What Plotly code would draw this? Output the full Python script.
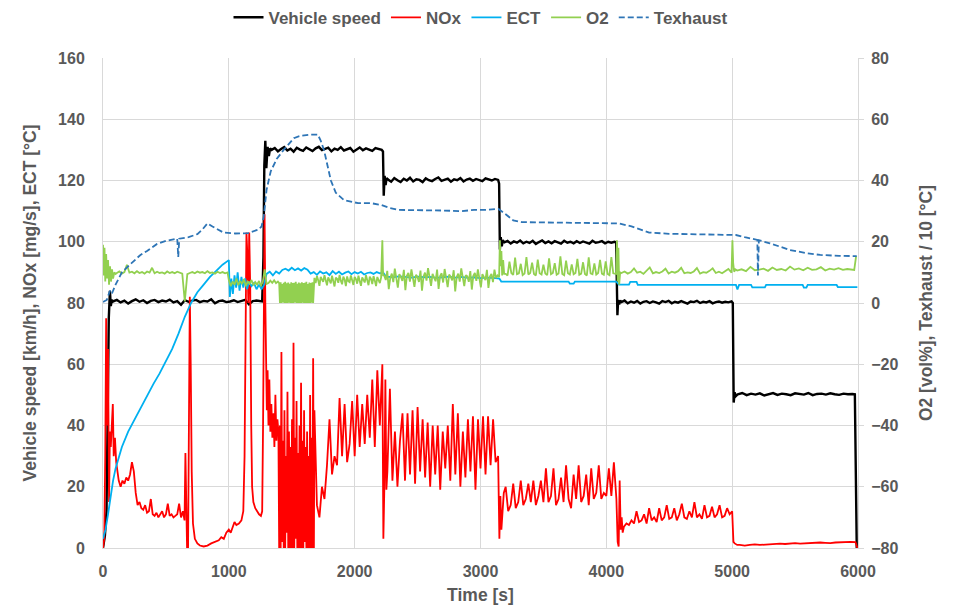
import plotly.graph_objects as go

# ---------------- DATA ----------------
# Each series is built from explicit (time, value) pieces and uniformly sampled pieces
# (start time, sampling step, typed values).

# Vehicle speed [km/h]
speed_p1_t = [0, 15, 28, 38, 46, 55, 62, 70]
speed_p1_v = [0, 4, 12, 45, 75, 84, 79, 81]
speed_s1 = (80, 30, [80.5, 81, 80.2, 80.8, 79.8, 80.6, 81.2, 80.4, 80.9, 80, 80.7, 81, 80.3, 80.8, 80.5, 81.1,
                     80.2, 80.6, 79.4, 80.9, 80.4, 80.8, 81, 80.3, 80.7, 80.5, 81.2, 79.9, 80.6, 80.8, 80.3,
                     80.5, 80.9, 80.3, 80.7, 81, 79.6, 80.6, 80.8, 80.5])
speed_p2_t = [1265, 1275, 1282, 1290, 1298, 1308, 1318, 1328]
speed_p2_v = [80.5, 95, 125, 133, 124, 131, 128, 130.5]
speed_s2 = (1340, 25, [130, 130.6, 129.5, 130.3, 130.9, 129.8, 130.4, 129.4, 130.7, 130.1, 129.7, 130.8, 130.2,
                       129.6, 130.5, 131, 129.9, 130.3, 130.7, 129.5, 130.4, 130, 130.9, 129.8, 130.3, 130.6,
                       129.4, 130.2, 130.8, 129.9, 130.5, 130.1, 129.7, 130.6, 130.2, 130])
speed_p3_t = [2225, 2231, 2238, 2246, 2254]
speed_p3_v = [129.5, 115, 121.5, 118.5, 120.8]
speed_s3 = (2265, 25, [120.3, 119.6, 120.8, 120.1, 119.5, 120.6, 120, 120.9, 119.7, 120.4, 120.2, 119.5, 120.7,
                       120.1, 119.8, 120.5, 121, 119.9, 120.3, 120.6, 119.6, 120.4, 120.1, 120.8, 119.7, 120.3,
                       120.6, 119.9, 120.5, 120.2, 119.8, 120.7, 120.3, 120, 120.5, 120.2])
speed_p4_t = [3148, 3154, 3161, 3169, 3177]
speed_p4_v = [119, 97.5, 101.5, 98.5, 100.5]
speed_s4 = (3190, 25, [99.8, 100.3, 99.4, 100.1, 99.7, 100.4, 99.5, 100, 99.6, 100.3, 99.3, 99.9, 100.4, 99.6,
                       100.1, 99.5, 100.2, 99.8, 99.4, 100.3, 99.7, 100, 99.5, 100.2, 99.6, 100.1, 99.8, 99.4,
                       100.3, 99.7, 99.9, 100.2, 99.5, 100, 99.7, 100])
speed_p5_t = [4078, 4088, 4094, 4102, 4110]
speed_p5_v = [99.8, 76, 81, 79.5, 80.8]
speed_s5 = (4120, 25, [80.3, 80.8, 79.9, 80.5, 80.1, 80.7, 79.8, 80.4, 80.6, 80, 80.5, 80.2, 79.8, 80.6, 80.3,
                       80.7, 79.9, 80.4, 80.1, 80.6, 80.2, 79.8, 80.5, 80.3, 80.7, 80, 80.4, 80.2, 80.6, 79.9,
                       80.3, 80.5, 80.1, 80.4, 80.2, 80.5])
speed_p6_t = [5005, 5012, 5020, 5030]
speed_p6_v = [80, 47.5, 50.8, 49.6]
speed_s6 = (5045, 35, [50.2, 50.6, 49.9, 50.4, 50.1, 50.5, 49.8, 50.3, 50.6, 50, 50.4, 50.2, 49.9, 50.5, 50.3,
                       50.1, 50.6, 49.9, 50.3, 50.4, 50.1, 50.5, 50.2, 50, 50.4, 50.2, 50.3])
speed_p7_t = [5975, 5990]
speed_p7_v = [50.2, 0]

# NOx [mg/s]
nox_p1_t = [0, 10, 18, 25, 32, 40, 48, 55, 62, 70, 78, 85, 95, 105, 115, 125, 140, 155, 170, 185, 200, 215,
            230, 245, 260, 275, 290, 305, 320, 335, 350, 365, 380, 395, 410, 425, 440, 455, 470, 485, 500,
            515, 530, 545, 560, 575, 590, 605, 620, 635, 648, 655, 662, 668, 676, 684, 690, 697, 705, 715,
            730, 750, 770, 800, 830, 860, 890, 920, 940, 960, 980, 1000, 1015, 1030, 1045, 1060, 1080, 1100,
            1115, 1125, 1132, 1140, 1148, 1155, 1162, 1170, 1178, 1185, 1195, 1210, 1225, 1240, 1255, 1265,
            1272, 1278, 1284, 1290, 1296, 1302, 1308, 1315, 1322, 1330, 1338, 1346, 1355, 1362, 1370, 1378,
            1386, 1394]
nox_p1_v = [0, 3, 30, 75, 40, 65, 15, 38, 33, 40, 47, 30, 36, 28, 24, 22, 20, 22, 21, 23, 22, 24,
            28, 25, 18, 14, 15, 13, 12.5, 14, 11.5, 12, 16, 11, 10.5, 11.5, 10, 11, 12, 10, 11,
            14.5, 10.5, 11, 10, 10.5, 11, 14.5, 10, 12, 9, 31, 15, 0, 0, 60, 82, 60, 25, 8,
            3, 1.5, 0.8, 0.5, 0.8, 1.5, 2, 2.5, 3.5, 3, 5, 6, 5, 7, 8.5, 7.5, 8, 9,
            12, 30, 85, 103, 95, 80, 103, 85, 40, 20, 15, 13, 12, 11, 10.5, 12,
            40, 90, 109, 80, 60, 45, 58, 40, 55, 38, 47, 36, 44, 33, 50, 35,
            42, 38]
nox_s1 = (1400, 6, [0, 40, 0, 64, 2, 35, 0, 45, 0, 30, 5, 51, 0, 38, 0, 33, 0, 42, 0, 67, 0, 36, 3, 48, 0, 31,
                    0, 40, 0, 54, 0, 35, 0, 45, 2, 33, 0, 38, 0, 30, 0, 50, 0, 36, 0, 62, 0])
nox_s2 = (1680, 20, [45, 14, 10, 20, 16, 27, 42, 24, 30, 27, 49, 30, 47, 28, 34, 48, 30, 50, 33, 47, 34, 50,
                     36, 55, 33, 58, 40, 60])
nox_p2_t = [2228, 2236, 2244, 2252]
nox_p2_v = [3, 20, 55, 19]
nox_s3 = (2260, 20, [25, 52, 22, 38, 20, 35, 44, 22, 44, 24, 45, 21, 46, 25, 42, 23, 41, 20, 40, 24, 40, 19,
                     38, 26, 40, 22, 47, 24, 44, 20, 38, 23, 42, 25, 43, 19, 42, 26, 43, 24, 43, 27, 42, 28, 30])
nox_p3_t = [3150, 3158, 3166, 3175, 3185]
nox_p3_v = [3, 17, 6, 14, 18]
nox_s4 = (3200, 20, [20, 12, 14, 21, 13, 15, 22, 14, 16, 21, 15, 22, 14, 17, 22, 15, 26, 15, 17, 26, 14, 16,
                     23, 15, 27, 16, 13, 24, 16, 27, 15, 17, 24, 14, 26, 16, 18, 27, 16, 18, 17, 26, 17, 28, 16])
nox_p4_t = [4090, 4098, 4106, 4114, 4122, 4130]
nox_p4_v = [2, 0.5, 22, 6, 10, 5]
nox_s5 = (4140, 20, [7, 8, 7.5, 9, 8, 12, 8.5, 9, 11, 8, 13, 9, 10, 8.5, 13, 9, 10, 14, 9.5, 10, 13, 9, 11,
                     14.5, 10, 9.5, 12, 10, 15, 10, 11, 9.5, 14, 10, 10.5, 13.5, 10, 11, 14, 10, 10.5, 13, 11, 12])
nox_p5_t = [5010, 5020, 5040]
nox_p5_v = [2, 1.5, 1]
nox_s6 = (5060, 40, [1, 0.8, 1, 1.2, 1, 1.1, 1.3, 1.2, 1.4, 1.3, 1.5, 1.6, 1.4, 1.5, 1.7, 1.6, 1.8, 1.7,
                     1.6, 1.8, 1.9, 1.8, 2, 1.9])
nox_p6_t = [5995]
nox_p6_v = [0]

# ECT [°C]
ect_p1_t = [0, 20, 40, 60, 80, 100, 120, 150, 200, 250, 300, 350, 400, 450, 500, 550, 600, 650, 700, 750,
            800, 850, 900, 950, 1000]
ect_p1_v = [3, 6, 11, 17, 22, 26, 29, 33, 38, 42, 45.5, 49.5, 53.5, 57, 61, 65, 70, 75.5, 80, 83.5,
            86, 88.5, 90.5, 92.5, 94]
ect_p2_t = [1008, 1020, 1032, 1045, 1058, 1070, 1085, 1100, 1115, 1130, 1145, 1160, 1180, 1200, 1220, 1240,
            1260, 1280, 1295]
ect_p2_v = [82, 88, 83, 89, 85, 90, 84, 88.5, 85, 88, 84.5, 87, 85.5, 86.5, 84.5, 86, 84.5, 86, 88]
ect_s1 = (1300, 25, [89.5, 90.2, 89, 90.3, 89.6, 90.8, 91.2, 90.6, 91.5, 90.7, 91.3, 90.6, 91.4, 90.9, 89.6,
                     90.1, 89.2, 90.3, 89.6, 90, 89.1, 90.4, 89.5, 90.2, 89.3, 89.9, 90.3, 89.4, 90.1, 89.6,
                     90.2, 89.3, 89.8, 90, 89.5, 90.1, 89.7, 90])
ect_s2 = (2250, 50, [88.6, 88.4, 88.7, 88.5, 88.3, 88.6, 88.4, 88.5, 88.2, 88.4, 88.6, 88.3, 88.5, 88.2,
                     88.4, 88.1, 88.3, 88.2])
ect_p3_t = [3150, 3165, 3500, 3700, 3710, 3740, 3750, 4080, 4100, 4180, 4190, 4240, 4250, 5030, 5042, 5055,
            5150, 5160, 5260, 5270, 5560, 5570, 5590, 5600, 5830, 5840, 5995]
ect_p3_v = [88, 87, 87, 87, 86.3, 86.3, 87, 87, 86, 86, 86.9, 86.9, 85.9, 85.9, 84.4, 85.9, 85.9, 85.1,
            85.1, 85.9, 85.9, 85, 85, 85.9, 85.9, 85.2, 85.2]

# O2 [vol%] (secondary axis)
o2_p1_t = [0, 6, 12, 18, 25, 32, 40, 48, 56, 64, 72, 80, 90, 100]
o2_p1_v = [19, 9, 18, 7, 16, 8, 14, 6, 12, 7, 11, 8, 10, 9.5]
o2_s1 = (110, 20, [9.8, 10.3, 9.6, 10.1, 12.5, 9.9, 10.2, 9.7, 10.4, 9.8, 10.1, 9.6, 10.3, 9.9, 11.5, 9.7,
                   10.2, 9.8, 10, 9.6, 10.3, 9.8, 10.1, 9.7, 10.2, 9.9, 9.6, 0.5, 9.4, 9.8, 10.1, 9.7, 10.3,
                   9.9, 10.1, 9.7, 10.4, 9.8, 10, 9.6, 10.2, 9.8, 10.1, 9.7, 10])
o2_s2 = (1000, 15, [7.5, 5.5, 7, 6, 8, 5.8, 7.2, 6.2, 7.8, 5.5, 7, 6.3, 7.5, 5.8, 6.8, 6, 7.2, 5.5, 7, 11,
                    6.2, 6.5, 7.3, 6.6, 7.4, 6.5, 7])
o2_s3 = (1400, 6, [6.5, 0, 6.8, 0, 6.2, 0.2, 6.6, 0, 6.9, 0, 6.4, 0, 6.7, 0.1, 6.3, 0, 6.8, 0, 6.5, 0, 6.6,
                   0.2, 6.9, 0, 6.3, 0, 6.7, 0, 6.4, 0, 6.8, 0.1, 6.5, 0, 6.6, 0, 6.9, 0, 6.2, 0, 6.7, 0,
                   6.5, 0.1, 6.8, 0, 6.6])
o2_s4 = (1680, 10, [8.2, 6.5, 8.8, 7.4, 5.6, 8.5, 7.8, 6.9, 9.1, 7.2, 5.8, 8.4, 7.6, 6.4, 8.9, 7.5, 5.4, 8.3,
                    7.9, 6.6, 9.2, 7.3, 6.1, 8.6, 7.7, 5.5, 8.7, 7.1, 6.8, 9, 7.4, 5.9, 8.5, 7.8, 6.3, 8.9,
                    7.2, 5.6, 8.4, 7.6, 6.7, 9.1, 7.5, 5.8, 8.6, 7.9, 6.2, 8.8, 7.3, 5.5, 8.5, 7.7, 6.5, 8.3])
o2_p2_t = [2220, 2226]
o2_p2_v = [20.5, 9]
o2_s5 = (2235, 12, [9, 7.5, 10.5, 4.5, 8.2, 9.6, 6.8, 11.2, 8, 5, 9.4, 8.6, 7.2, 10.8, 4.2, 8.9, 9.8, 7, 11,
                    8.3, 5.3, 9.2, 8.5, 6.9, 10.6, 4, 8.7, 9.9, 7.3, 11.4, 8.1, 5.6, 9.5, 8.4, 7.1, 10.9, 4.6,
                    8.8, 9.7, 6.7, 11.1, 8.2, 5.2, 9.3, 8.6, 7.4, 10.7, 3.8, 8.5, 9.6, 7, 11.3, 8, 5.5, 9.1,
                    8.7, 6.9, 10.4, 4.4, 8.9, 9.8, 7.2, 11, 8.4, 5.1, 9.4, 8.3, 7.5, 10.8, 4.9, 8.6, 9.5, 6.8,
                    10.9, 8.1, 9])
o2_p3_t = [3148, 3154, 3160, 3166, 3172, 3180, 3188]
o2_p3_v = [8.5, 20.5, 12, 17, 9, 14, 9.5]
o2_s6 = (3200, 15, [9.5, 9, 13.5, 9.8, 9.2, 14.8, 9.4, 9.7, 12.8, 9.1, 9.6, 15, 9.3, 9.8, 13.2, 9.5, 9, 14.2,
                    9.7, 9.3, 12.5, 9.6, 9.1, 14.6, 9.4, 9.8, 13, 9.2, 9.6, 15.2, 9.5, 9.1, 13.8, 9.7, 9.3,
                    12.6, 9.4, 9.8, 14.4, 9.2, 9.6, 13.3, 9.5, 9, 14.9, 9.7, 9.4, 12.9, 9.3, 9.8, 14.1, 9.6,
                    9.2, 13.6, 9.5, 9.1, 15, 9.7, 9.4])
o2_p4_t = [4078, 4084, 4090, 4096, 4102, 4110]
o2_p4_v = [9.5, 20.5, 7, 18, 6, 10]
o2_s7 = (4120, 25, [9.8, 10.3, 9.6, 10.1, 11.3, 9.9, 10.2, 9.5, 10.4, 11.6, 9.7, 10.1, 9.8, 10.3, 11.2, 9.6,
                    10.2, 9.9, 10.4, 11.5, 9.7, 10, 9.8, 10.3, 11.4, 9.6, 10.1, 9.9, 10.5, 11.3, 9.8, 10.2,
                    9.7, 10.3, 11.1, 9.9])
o2_p5_t = [5002, 5008, 5016, 5025]
o2_p5_v = [20.5, 13, 10.2, 11]
o2_s8 = (5040, 35, [10.6, 11, 10.4, 11.8, 10.7, 10.9, 11.2, 10.5, 11.6, 10.8, 11.1, 10.6, 11.9, 10.9, 11.3,
                    10.7, 11.5, 10.8, 11, 11.7, 10.6, 11.2, 10.9, 11.4, 10.8, 11.1, 10.9])
o2_p6_t = [5970, 5985]
o2_p6_v = [10.8, 15.3]

# Texhaust / 10 [°C] (secondary axis)
tex_t = [0, 30, 55, 70, 100, 150, 200, 250, 295, 350, 430, 500, 590, 598, 606, 680, 750, 790, 830, 870, 957,
         1050, 1150, 1237, 1260, 1277, 1300, 1333, 1380, 1436, 1516, 1560, 1650, 1707, 1730, 1756, 1790, 1811,
         1850, 1915, 2027, 2130, 2210, 2280, 2346, 2500, 2700, 2850, 2950, 3030, 3143, 3200, 3260, 3327, 3500,
         3700, 3900, 4100, 4200, 4340, 4500, 4700, 4900, 5030, 5100, 5200, 5205, 5212, 5300, 5460, 5600, 5700,
         5850, 5990]
tex_v = [0.3, 1, 4, 3, 6, 10, 12, 14, 15.6, 17, 19.3, 20.3, 21, 15, 21, 21.5, 22.5, 24, 26, 25, 23,
         22.7, 22.8, 24, 25, 28, 37, 43, 47, 50, 53.8, 54.5, 55, 55, 53, 50, 44, 40,
         36, 33.6, 32.6, 32.6, 32, 31, 30.4, 30.4, 30.2, 30, 30.4, 30.4, 30.7, 29, 27, 26.4, 26.3,
         26, 26, 26, 25, 23, 22.6, 22.5, 22.3, 22.2, 21.5, 20.6, 9, 20.5, 19.5, 17.3, 16.2, 15.7,
         15.4, 15.3]


def build(*pieces):
    """Concatenate explicit (t-list, v-list) pieces and sampled (start, step, values) pieces."""
    ts, vs = [], []
    for p in pieces:
        if len(p) == 3:
            t0, step, vals = p
            ts += [t0 + i * step for i in range(len(vals))]
            vs += list(vals)
        else:
            ts += list(p[0])
            vs += list(p[1])
    return ts, vs


speed_t, speed_v = build((speed_p1_t, speed_p1_v), speed_s1, (speed_p2_t, speed_p2_v), speed_s2,
                         (speed_p3_t, speed_p3_v), speed_s3, (speed_p4_t, speed_p4_v), speed_s4,
                         (speed_p5_t, speed_p5_v), speed_s5, (speed_p6_t, speed_p6_v), speed_s6,
                         (speed_p7_t, speed_p7_v))
nox_t, nox_v = build((nox_p1_t, nox_p1_v), nox_s1, nox_s2, (nox_p2_t, nox_p2_v), nox_s3,
                     (nox_p3_t, nox_p3_v), nox_s4, (nox_p4_t, nox_p4_v), nox_s5, (nox_p5_t, nox_p5_v),
                     nox_s6, (nox_p6_t, nox_p6_v))
ect_t, ect_v = build((ect_p1_t, ect_p1_v), (ect_p2_t, ect_p2_v), ect_s1, ect_s2, (ect_p3_t, ect_p3_v))
o2_t, o2_v = build((o2_p1_t, o2_p1_v), o2_s1, o2_s2, o2_s3, o2_s4, (o2_p2_t, o2_p2_v), o2_s5,
                   (o2_p3_t, o2_p3_v), o2_s6, (o2_p4_t, o2_p4_v), o2_s7, (o2_p5_t, o2_p5_v), o2_s8,
                   (o2_p6_t, o2_p6_v))

# ---------------- FIGURE ----------------
GREY = "#595959"
GRID = "#D9D9D9"
FONT = "Liberation Sans, Arial, sans-serif"

fig = go.Figure()
fig.add_trace(go.Scatter(x=speed_t, y=speed_v, name="Vehicle speed", mode="lines",
                         line=dict(color="#000000", width=2.4)))
fig.add_trace(go.Scatter(x=nox_t, y=nox_v, name="NOx", mode="lines",
                         line=dict(color="#FF0000", width=1.8)))
fig.add_trace(go.Scatter(x=ect_t, y=ect_v, name="ECT", mode="lines",
                         line=dict(color="#00B0F0", width=1.8)))
fig.add_trace(go.Scatter(x=o2_t, y=o2_v, name="O2", mode="lines", yaxis="y2",
                         line=dict(color="#92D050", width=1.8)))
fig.add_trace(go.Scatter(x=tex_t, y=tex_v, name="Texhaust", mode="lines", yaxis="y2",
                         line=dict(color="#2E75B6", width=1.8, dash="6px,3px")))

tickfont = dict(family=FONT, size=16, color=GREY, weight="bold")
titlefont = dict(family=FONT, size=17.5, color=GREY, weight="bold")

fig.update_layout(
    width=956, height=610,
    margin=dict(l=95, r=106, t=50, b=70, autoexpand=False),
    paper_bgcolor="white", plot_bgcolor="white",
    font=dict(family=FONT, color=GREY),
    showlegend=True,
    legend=dict(orientation="h", x=0.5, xanchor="center", yref="container", y=0.984, yanchor="middle",
                font=dict(family=FONT, size=17, color=GREY, weight="bold"),
                itemwidth=30, tracegroupgap=0),
    xaxis=dict(range=[0, 6000], dtick=1000, showgrid=True, gridcolor=GRID, gridwidth=1,
               zeroline=False, showline=True, linecolor=GRID, ticks="", ticklabelstandoff=9,
               tickfont=tickfont, title=dict(text="Time [s]", font=titlefont, standoff=9)),
    yaxis=dict(range=[0, 160], dtick=20, showgrid=True, gridcolor=GRID, gridwidth=1,
               zeroline=False, showline=True, linecolor=GRID, ticks="", ticklabelstandoff=14,
               tickfont=tickfont,
               title=dict(text="Vehicle speed [km/h], NOx [mg/s], ECT [°C]", font=titlefont, standoff=16)),
    yaxis2=dict(range=[-80, 80], dtick=20, overlaying="y", side="right", showgrid=False,
                zeroline=False, showline=True, linecolor=GRID, ticks="outside", ticklen=5,
                tickcolor=GRID, tickfont=tickfont, ticklabelstandoff=4,
                title=dict(text="O2 [vol%], Texhaust / 10 [°C]", font=titlefont, standoff=22)),
)

fig.write_html("out.html")
